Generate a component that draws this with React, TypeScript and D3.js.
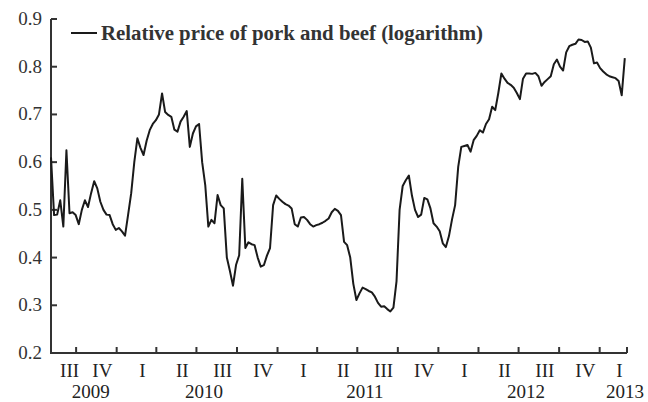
import React from "react";
import * as d3 from "d3";

// weekly observations starting at the first week of August 2009
const startDate = new Date(2009, 7, 5);
const endDate = new Date(2013, 2, 4);

const relPrice = [
  0.61, 0.489, 0.49, 0.52, 0.465, 0.625, 0.493, 0.495, 0.489, 0.47,
  0.5, 0.52, 0.506, 0.535, 0.56, 0.545, 0.517, 0.5, 0.49, 0.489,
  0.47, 0.458, 0.462, 0.455, 0.446, 0.49, 0.535, 0.6, 0.65, 0.63,
  0.615, 0.645, 0.667, 0.68, 0.688, 0.7, 0.744, 0.705, 0.699, 0.695,
  0.668, 0.664, 0.685, 0.695, 0.707, 0.632, 0.66, 0.675, 0.68, 0.6,
  0.552, 0.465, 0.479, 0.472, 0.531, 0.51, 0.503, 0.4, 0.372, 0.341,
  0.385, 0.405, 0.565, 0.42, 0.432, 0.428, 0.426, 0.4, 0.381, 0.384,
  0.404, 0.42, 0.51, 0.53, 0.523, 0.517, 0.512, 0.509, 0.503, 0.47,
  0.465, 0.484, 0.485, 0.479, 0.47, 0.465, 0.468, 0.47, 0.473, 0.477,
  0.482, 0.495, 0.502, 0.498, 0.489, 0.433, 0.426, 0.4, 0.345, 0.311,
  0.325, 0.337, 0.334, 0.33, 0.327, 0.318, 0.305, 0.297, 0.298, 0.292,
  0.287, 0.295, 0.35, 0.5, 0.55, 0.562, 0.572, 0.53, 0.5, 0.485,
  0.49, 0.525, 0.522, 0.503, 0.472, 0.465, 0.455, 0.43, 0.422, 0.445,
  0.48, 0.51, 0.59, 0.632, 0.634, 0.636, 0.622, 0.646, 0.655, 0.667,
  0.662, 0.68, 0.69, 0.716, 0.709, 0.745, 0.786, 0.775, 0.766, 0.762,
  0.756, 0.745, 0.732, 0.775, 0.786, 0.786, 0.785, 0.787, 0.78, 0.76,
  0.768, 0.774, 0.78, 0.805, 0.815, 0.8, 0.792, 0.83, 0.843, 0.846,
  0.848, 0.857, 0.856, 0.852, 0.853, 0.84, 0.807, 0.809, 0.797, 0.79,
  0.784, 0.78, 0.778, 0.776, 0.77, 0.74, 0.818,
];

const yTicks = [0.2, 0.3, 0.4, 0.5, 0.6, 0.7, 0.8, 0.9];
const quarterNames = ["I", "II", "III", "IV"];
const years = [2009, 2010, 2011, 2012, 2013];
const legendLabel = "Relative price of pork and beef (logarithm)";

const W = 648;
const H = 402;
const left = 51;
const right = 627;
const top = 19;
const bottom = 353;
const font = "'Liberation Serif', 'Times New Roman', serif";
const ink = "#1a1a1a";

export default function App() {
  const data = relPrice.map((v, i) => ({
    date: d3.timeDay.offset(startDate, 7 * i),
    value: v,
  }));

  const x = d3.scaleTime().domain([startDate, endDate]).range([left, right]);
  const y = d3.scaleLinear().domain([0.2, 0.9]).range([bottom, top]);

  const line = d3
    .line<{ date: Date; value: number }>()
    .x((d) => x(d.date))
    .y((d) => y(d.value));

  // quarter boundaries inside the domain
  const qTicks = d3.timeMonth
    .every(3)!
    .range(d3.timeDay.offset(startDate, 1), endDate);
  const tickXs = [...qTicks.map((d) => x(d)), right];

  // quarter labels sit in each (clipped) quarter, a bit right of centre
  const quarters = d3.timeMonth.every(3)!.range(new Date(2009, 6, 1), endDate);
  const qLabels = quarters.map((q) => {
    const a = Math.max(x(q), left);
    const b = Math.min(x(d3.timeMonth.offset(q, 3)), right);
    return { x: (a + b) / 2 + 6, text: quarterNames[Math.floor(q.getMonth() / 3)] };
  });

  // the last year is cut by the axis end, its label hugs the right edge
  const yearLabels = years.map((yr) => {
    const a = Math.max(x(new Date(yr, 0, 1)), left);
    const b = Math.min(x(new Date(yr + 1, 0, 1)), right);
    return { x: b >= right ? right - 2 : (a + b) / 2 + 7, text: String(yr) };
  });

  return (
    <svg
      width={W}
      height={H}
      style={{ position: "absolute", left: 0, top: 0, background: "#fff" }}
      fontFamily={font}
    >
      {/* axes */}
      <line x1={left} x2={left} y1={top} y2={bottom} stroke="#333" strokeWidth={2} />
      <line x1={left - 1} x2={right} y1={bottom} y2={bottom} stroke="#333" strokeWidth={2} />
      {yTicks.map((t) => (
        <g key={t}>
          <line x1={left} x2={left + 6} y1={y(t)} y2={y(t)} stroke="#333" strokeWidth={2} />
          <text x={42} y={y(t) + 6} textAnchor="end" fontSize={19} fill="#333">
            {t.toFixed(1)}
          </text>
        </g>
      ))}
      {tickXs.map((tx, i) => (
        <line key={i} x1={tx} x2={tx} y1={bottom} y2={bottom - 6} stroke="#333" strokeWidth={2} />
      ))}
      {qLabels.map((l, i) => (
        <text key={i} x={l.x} y={377} textAnchor="middle" fontSize={19} fill="#222">
          {l.text}
        </text>
      ))}
      {yearLabels.map((l) => (
        <text key={l.text} x={l.x} y={398} textAnchor="middle" fontSize={19} fill="#222">
          {l.text}
        </text>
      ))}

      {/* series */}
      <path d={line(data) ?? ""} fill="none" stroke={ink} strokeWidth={2} strokeLinejoin="round" />

      {/* legend */}
      <line x1={71} x2={97} y1={33} y2={33} stroke={ink} strokeWidth={2} />
      <text
        x={101}
        y={40}
        fontSize={20}
        fontWeight="bold"
        fill="#333"
        textLength={382}
        lengthAdjust="spacingAndGlyphs"
      >
        {legendLabel}
      </text>
    </svg>
  );
}
